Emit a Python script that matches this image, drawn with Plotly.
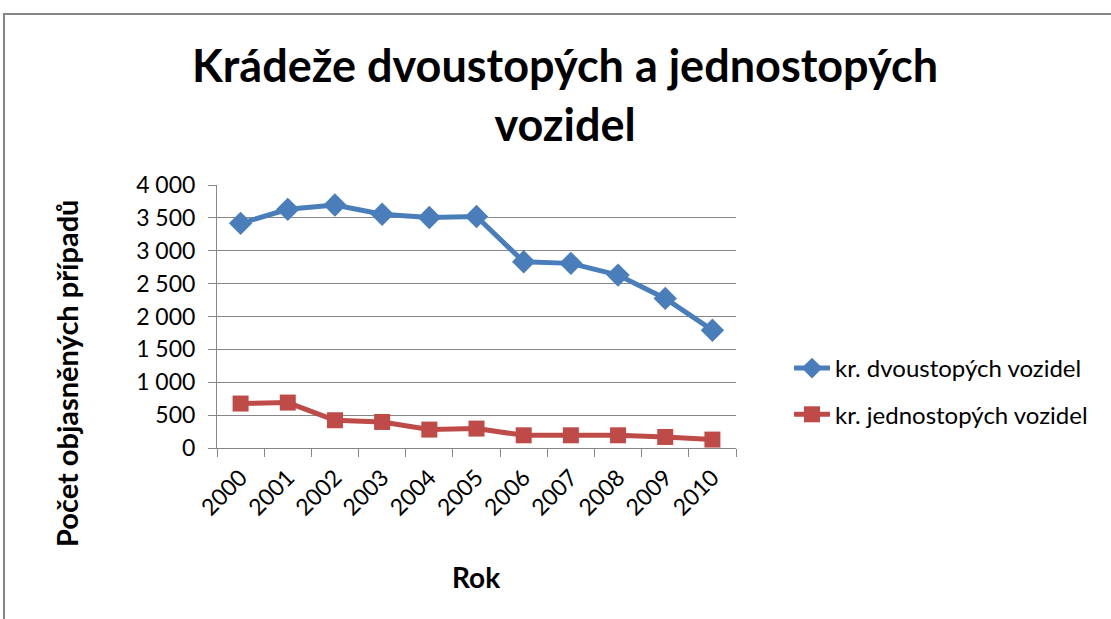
import plotly.graph_objects as go

years = ["2000", "2001", "2002", "2003", "2004", "2005", "2006", "2007", "2008", "2009", "2010"]
dvoustope = [3417, 3630, 3696, 3554, 3505, 3520, 2832, 2808, 2630, 2275, 1792]
jednostope = [676, 691, 422, 396, 280, 295, 193, 193, 193, 168, 128]
name_dvou = "kr. dvoustopých vozidel"
name_jedno = "kr. jednostopých vozidel"
title_text = "Krádeže dvoustopých a jednostopých<br>vozidel"
y_title = "Počet objasněných případů"
x_title = "Rok"

FONT = "Lato"
BLUE = "#4A7EBB"
RED = "#BE4B48"

fig = go.Figure()
fig.add_trace(go.Scatter(x=years, y=dvoustope, name=name_dvou, mode="lines+markers",
                         legendgroup="a",
                         line=dict(color=BLUE, width=5),
                         marker=dict(symbol="diamond", size=18, color=BLUE)))
fig.add_trace(go.Scatter(x=years, y=jednostope, name=name_jedno, mode="lines+markers",
                         legendgroup="b",
                         line=dict(color=RED, width=5),
                         marker=dict(symbol="square", size=16, color=RED)))

# body margin removed via post_script, so reference pixels map 1:1
X0, X1, Y0, Y1 = 217, 736, 185, 448
L, R, T, B = X0, 1111 - X1, Y0, 619 - Y1
pw, ph = X1 - X0, Y1 - Y0


def px(x):
    return (x - X0) / pw


def py(y):
    return (Y1 - y) / ph


fig.update_layout(
    width=1111, height=619,
    margin=dict(l=L, r=R, t=T, b=B, pad=0),
    paper_bgcolor="white", plot_bgcolor="white",
    separators=", ",
    font=dict(family=FONT, color="#000000"),
    showlegend=True,
    legend=dict(x=px(789), y=py(346), xanchor="left", yanchor="top",
                font=dict(size=24, family=FONT), traceorder="grouped", tracegroupgap=12,
                itemwidth=36, bgcolor="rgba(0,0,0,0)"),
    xaxis=dict(type="category", showgrid=False, showline=True, linecolor="#868686", linewidth=1,
               ticks="outside", tickson="boundaries", ticklen=8, tickcolor="#868686",
               tickangle=-45, tickfont=dict(size=23, family=FONT), ticklabelstandoff=6,
               range=[-0.5, 10.5]),
    yaxis=dict(range=[0, 4000], dtick=500, showgrid=True, gridcolor="#868686", gridwidth=1,
               showline=True, linecolor="#868686", linewidth=1, ticks="outside", ticklen=8,
               tickcolor="#868686", separatethousands=True, tickformat=",d",
               tickfont=dict(size=23, family=FONT), ticklabelstandoff=8, zeroline=False),
    annotations=[
        dict(text="<b>" + title_text + "</b>", x=px(565), y=py(36),
             xref="paper", yref="paper", xanchor="center", yanchor="top", showarrow=False,
             font=dict(size=45, family=FONT), align="center"),
        dict(text="<b>" + y_title + "</b>", x=px(66), y=py(374),
             xref="paper", yref="paper", xanchor="center", yanchor="middle", showarrow=False,
             textangle=-90, font=dict(size=29, family=FONT)),
        dict(text="<b>" + x_title + "</b>", x=px(476), y=py(577),
             xref="paper", yref="paper", xanchor="center", yanchor="middle", showarrow=False,
             font=dict(size=28, family=FONT)),
    ],
    shapes=[
        dict(type="rect", xref="paper", yref="paper",
             x0=px(4), x1=px(1300), y0=py(800), y1=py(14),
             line=dict(color="#868686", width=2), layer="below"),
    ],
)

fig.write_html("out.html", config={"displayModeBar": False},
               post_script="document.body.style.margin='0';document.body.style.overflow='hidden';")
